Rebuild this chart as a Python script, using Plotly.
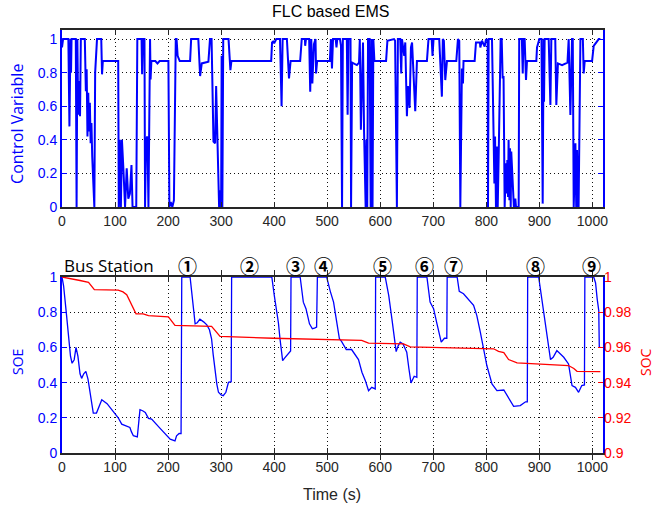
import plotly.graph_objects as go

# ---------------- data ----------------
CV_T = [0, 2, 12, 14, 16, 17, 18, 26, 27.5, 29, 30.5, 32, 33, 34, 35.5, 43, 45, 46.5, 48, 49.5, 51, 52.5, 54, 55.5, 57, 59, 61,
        62.5, 64, 66, 74, 75.5, 77, 106,
        107, 109, 111, 113, 115.7, 118.9, 122, 125, 128, 131, 133, 138, 140, 142, 150, 151, 152.5, 155.5, 156.6, 158.5, 161, 163,
        164.8, 166, 167, 168.5, 176, 180, 184, 200.6, 202.5, 205, 208, 211, 214.5,
        216, 218, 222, 241.5, 243.5, 257, 260.4, 263.5, 276, 279, 282, 285.6, 288.7, 290.6, 293.8, 295, 296.2, 298, 300, 301,
        302.3, 304, 314, 317.5, 319.4, 394.4,
        396, 398, 400, 404, 411, 414, 416, 424, 428, 431, 449, 452, 458, 458.5, 460, 466, 468, 470, 472, 475, 477, 478, 479, 481,
        505, 507, 509, 511, 516, 517.5, 519, 524, 526, 528, 529.5, 537, 538.5, 540, 544, 545, 547, 551, 556, 560, 561.5, 563.5,
        566.5, 567.5, 569.5, 571, 572.5, 574, 575.5, 577, 580, 582, 584, 585.5, 587, 589, 611, 613.5, 626, 628,
        631.4, 633.3, 637.7, 639.6, 641, 645.3, 647.2, 650.3, 652.2, 655.3, 657.9, 660, 666, 669.2, 688, 691, 697, 698.6, 700.5,
        711.2, 716.2, 718, 720, 722.6, 725.8, 743.4, 746.5, 749, 751, 754, 756, 757, 778,
        780.5, 788, 788.7, 791.8, 796.9, 799.4, 801.3, 802.5, 803.2, 804.4, 810.7, 813.8, 815.2, 816.5, 818.2, 820, 821.5, 823.3,
        825, 827, 829, 830.8, 832.5, 834.6, 837, 838.5, 839.6, 841, 842, 843.5, 844.7, 846, 847, 849.7, 852, 854.7, 856, 861,
        862, 867, 868.7, 870, 872.3, 874.8, 876.7, 894.3, 895.6, 900, 904, 906.3, 908, 908.8, 910, 917.6, 920.8, 922.6, 930,
        932, 935, 942.8, 949, 953, 955.3, 958.5, 961.6, 963, 964.8, 968, 969.5, 971, 973, 974, 977.4, 982, 983.6, 985.5,
        999.4, 1002.5, 1012, 1015]
CV_V = [0.95, 1, 1, 0.48, 1, 0.8, 1, 1, 0, 1, 0.55, 0.62, 0.75, 0.54, 1, 1, 0.69, 0.82, 0.42, 0.68, 0.45, 0.62, 0.38, 0.5, 0.3, 0.1, 0,
        0.8, 0.92, 1, 1, 0.79, 0.869, 0.869,
        0, 0.4, 0, 0.4, 0.23, 0, 0.23, 0.05, 0.08, 0.25, 0, 0, 0, 1, 1, 0.79, 1, 1, 0, 0.4, 0.42, 0,
        1, 1, 0.76, 0.869, 0.869, 0.855, 0.869, 0.869, 0, 0.03, 0, 0.04, 1,
        1, 0.9, 0.869, 0.869, 1, 1, 0.78, 0.855, 0.865, 1, 1, 0.39, 0.38, 0.72, 0.39, 0.22, 0, 0.1, 0, 0.9,
        0, 1, 1, 0.815, 0.869, 0.869,
        0.98, 0.985, 0.975, 1, 1, 0.6, 1, 1, 0.766, 0.869, 0.869, 1, 1, 0.96, 1, 1, 0.687, 1, 0.736, 0.97, 1, 1, 0.795, 0.869,
        0.869, 1, 0.825, 1, 1, 0.95, 1, 1, 0.96, 0, 1, 1, 0.55, 1, 1, 0, 0.86, 0.855, 0.845, 0.86, 1, 0.46,
        0.96, 0.98, 0.45, 0.25, 0, 0.4, 0, 1, 1, 0, 1, 0, 1, 0.869, 0.869, 0.99, 1, 0.99,
        0, 1, 1, 0.795, 1, 0.9, 0.98, 0.54, 0.72, 0.59, 0.95, 0.98, 0.57, 0.869, 0.869, 1, 1, 0.9, 1,
        1, 0.657, 1, 0.99, 0.756, 0.869, 0.869, 1, 0.99, 0, 0.825, 0.736, 0.869, 0.869,
        0.98, 0.98, 0.95, 0.99, 0.955, 1, 0.99, 1, 0, 1, 1, 0.4, 0.14, 0.42, 0, 0.36, 0, 0.3,
        0.8, 1, 1, 0.766, 0.78, 0, 0.26, 0.08, 0.28, 0.06, 0.4, 0.04, 0.35, 0, 0.33, 0.1, 0, 0.05, 0, 0,
        1, 1, 0.795, 1, 1, 0.756, 0.869, 0.869, 0.95, 1, 1, 0.02, 1, 0.627, 1, 1, 0.607, 1, 1,
        0.607, 0.855, 0.845, 0.855, 0.86, 1, 0.548, 1, 1, 0, 0.379, 0, 0.339, 0, 0, 1, 1, 0.795, 0.869,
        0.869, 0.96, 1, 1]

SOE_T = [0, 3, 8, 12, 16, 19, 23, 26.4, 30, 34, 37, 41, 45, 49, 53, 57, 59, 65, 70, 75, 85, 100, 106, 112.6, 120, 128, 131,
         134.5, 142, 145, 147, 152, 157, 163, 169, 185, 204, 213, 216, 220.8, 224.5, 225.8, 241.5, 244, 247.8, 251, 255, 260,
         267, 273, 278, 282, 285, 288.7, 292, 295, 300, 304, 309, 313.8, 319, 319.8, 395.6, 400, 405, 408, 411, 416, 420, 427,
         431, 431.8, 449, 455, 460, 466.6, 472, 476, 480, 481.5, 499, 505.7, 512, 518, 523, 527, 536, 546, 552, 559, 565.5,
         572, 578, 584, 590.6, 591.3, 609.4, 616, 622, 627, 630, 634, 637.7, 643, 650, 654, 658, 664, 669, 669.8, 688, 694,
         700.6, 707, 715, 721, 725.5, 726.2, 745, 749, 757, 776, 782, 788.7, 795, 801, 810.7, 820, 833, 842, 851.5, 864, 874,
         877.3, 878, 898.7, 908, 914.5, 921, 926, 933, 946, 955, 961.6, 968, 974, 980, 985, 985.8, 1002.5, 1006, 1009, 1012,
         1013, 1015]
SOE_V = [1.0, 0.95, 0.8, 0.65, 0.55, 0.51, 0.53, 0.60, 0.55, 0.45, 0.424, 0.45, 0.464, 0.42, 0.33, 0.25, 0.227, 0.227, 0.27,
         0.303, 0.28, 0.221, 0.2, 0.164, 0.155, 0.145, 0.12, 0.098, 0.092, 0.18, 0.246, 0.24, 0.23, 0.197, 0.193, 0.14,
         0.079, 0.069, 0.098, 0.111, 0.11, 1.0, 1.0, 0.93, 0.839, 0.734, 0.74, 0.76, 0.745, 0.728, 0.7, 0.649, 0.56, 0.459,
         0.39, 0.345, 0.33, 0.326, 0.345, 0.402, 0.405, 1.0, 1.0, 0.9, 0.80, 0.74, 0.649, 0.525, 0.54, 0.563, 0.58, 1.0, 1.0,
         0.857, 0.82, 0.734, 0.706, 0.71, 0.715, 1.0, 1.0, 0.92, 0.857, 0.744, 0.649, 0.634, 0.588, 0.588, 0.56, 0.531,
         0.459, 0.411, 0.354, 0.373, 0.364, 1.0, 1.0, 0.896, 0.762, 0.63, 0.576, 0.61, 0.63, 0.62, 0.573, 0.48, 0.398, 0.436,
         0.43, 1.0, 1.0, 0.857, 0.82, 0.734, 0.63, 0.652, 0.652, 1.0, 1.0, 0.918, 0.905, 0.839, 0.782, 0.687, 0.592, 0.497,
         0.392, 0.354, 0.358, 0.316, 0.265, 0.269, 0.291, 0.291, 1.0, 1.0, 0.80, 0.667, 0.531, 0.544, 0.582, 0.544, 0.506,
         0.383, 0.373, 0.345, 0.383, 0.387, 1.0, 1.0, 0.966, 0.876, 0.81, 0.6, 0.6]

SOC_T = [0, 12, 34, 50, 55, 61, 106, 115, 122, 131.5, 139.6, 153, 163, 200.6, 207, 213, 282, 290, 298, 398, 515, 565, 578,
         644, 656.6, 813.8, 823, 833, 842, 858, 955, 965, 971, 1015]
SOC_V = [1.0, 0.9994, 0.998, 0.997, 0.995, 0.9928, 0.9925, 0.9915, 0.9899, 0.9839, 0.9791, 0.979, 0.978, 0.9774, 0.975,
         0.9725, 0.972, 0.969, 0.9662, 0.9652, 0.9643, 0.964, 0.9624, 0.962, 0.9603, 0.9592, 0.9577, 0.957, 0.9531, 0.9512,
         0.9497, 0.948, 0.9464, 0.9462]

X_TICKS = [0, 100, 200, 300, 400, 500, 600, 700, 800, 900, 1000]
Y_TICKS = [0, 0.2, 0.4, 0.6, 0.8, 1]
Y_TICK_TEXT = ["0", "0.2", "0.4", "0.6", "0.8", "1"]
SOC_TICKS = [0.9, 0.92, 0.94, 0.96, 0.98, 1]
SOC_TICK_TEXT = ["0.9", "0.92", "0.94", "0.96", "0.98", "1"]
STATION_T = [236, 354, 440, 493, 604, 684, 739, 892, 998]
STATION_LABELS = ["①", "②", "③", "④", "⑤", "⑥", "⑦", "⑧", "⑨"]

BLUE = "#0000FF"
RED = "#FF0000"
TICKFONT = dict(family="Liberation Sans, Arial", size=14, color="#262626")
GRID_DASH = "1px,3px"

fig = go.Figure()
fig.add_trace(go.Scatter(x=CV_T, y=CV_V, mode="lines", line=dict(color=BLUE, width=2),
                         xaxis="x", yaxis="y", showlegend=False, hoverinfo="skip"))
fig.add_trace(go.Scatter(x=SOE_T, y=SOE_V, mode="lines", line=dict(color=BLUE, width=1.3),
                         xaxis="x2", yaxis="y2", showlegend=False, hoverinfo="skip"))
fig.add_trace(go.Scatter(x=SOC_T, y=SOC_V, mode="lines", line=dict(color=RED, width=1.3),
                         xaxis="x2", yaxis="y3", showlegend=False, hoverinfo="skip"))

common_x = dict(range=[0, 1020], tickvals=X_TICKS, ticks="inside", ticklen=5, tickcolor="#262626",
                showline=True, linecolor="#262626", linewidth=1.5, mirror="allticks",
                showgrid=True, griddash=GRID_DASH, gridcolor="#111111", gridwidth=1, zeroline=False,
                tickfont=TICKFONT)
common_y = dict(tickvals=Y_TICKS, ticktext=Y_TICK_TEXT, ticks="inside", ticklen=5, tickcolor=BLUE,
                showline=True, linecolor=BLUE, linewidth=2, mirror="allticks",
                showgrid=True, griddash=GRID_DASH, gridcolor="#111111", gridwidth=1, zeroline=False,
                tickfont=dict(family="Liberation Sans, Arial", size=14, color=BLUE))

TOP_DOM = [0.5816, 1.0]
BOT_DOM = [0.0, 0.4161]

fig.update_layout(
    width=662, height=505,
    margin=dict(l=62, r=59, t=30, b=52),
    paper_bgcolor="white", plot_bgcolor="white",
    xaxis=dict(domain=[0, 1], anchor="y", **common_x),
    yaxis=dict(domain=TOP_DOM, anchor="x", range=[0, 1.054], **common_y),
    xaxis2=dict(domain=[0, 1], anchor="y2", **common_x),
    yaxis2=dict(domain=BOT_DOM, anchor="x2", range=[0, 1], **common_y),
    yaxis3=dict(overlaying="y2", side="right", anchor="x2", range=[0.9, 1], tickvals=SOC_TICKS,
                ticktext=SOC_TICK_TEXT, ticks="inside", ticklen=5, tickcolor=RED, showgrid=False,
                zeroline=False, showline=False,
                tickfont=dict(family="Liberation Sans, Arial", size=14, color=RED)),
)

ann = []
ann.append(dict(text="FLC based EMS", xref="paper", yref="paper", x=0.497, y=1.0426, xanchor="center",
                yanchor="middle", showarrow=False, font=dict(family="Liberation Sans, Arial", size=16, color="black")))
ann.append(dict(text="Control Variable", xref="paper", yref="paper", x=-0.0832, y=0.778, textangle=-90,
                xanchor="center", yanchor="middle", showarrow=False,
                font=dict(family="Open Sans", size=16, color=BLUE)))
ann.append(dict(text="SOE", xref="paper", yref="paper", x=-0.0832, y=0.215, textangle=-90,
                xanchor="center", yanchor="middle", showarrow=False,
                font=dict(family="Open Sans", size=14, color=BLUE)))
ann.append(dict(text="SOC", xref="paper", yref="paper", x=1.0776, y=0.215, textangle=-90,
                xanchor="center", yanchor="middle", showarrow=False,
                font=dict(family="Open Sans", size=14, color=RED)))
ann.append(dict(text="Time (s)", xref="paper", yref="paper", x=0.499, y=-0.097, xanchor="center",
                yanchor="middle", showarrow=False, font=dict(family="Liberation Sans, Arial", size=16, color="#262626")))
ann.append(dict(text="Bus Station", xref="paper", yref="paper", x=0.0, y=0.4444, xanchor="left",
                yanchor="middle", showarrow=False, font=dict(family="Open Sans", size=17, color="black")))
for t, lab in zip(STATION_T, STATION_LABELS):
    ann.append(dict(text="<b>" + lab + "</b>", xref="x2", yref="paper", x=t, y=0.4444, xanchor="center",
                    yanchor="middle", showarrow=False,
                    font=dict(family="Noto Sans CJK SC", size=19, color="black")))
fig.update_layout(annotations=ann)

fig.write_html("out.html")
